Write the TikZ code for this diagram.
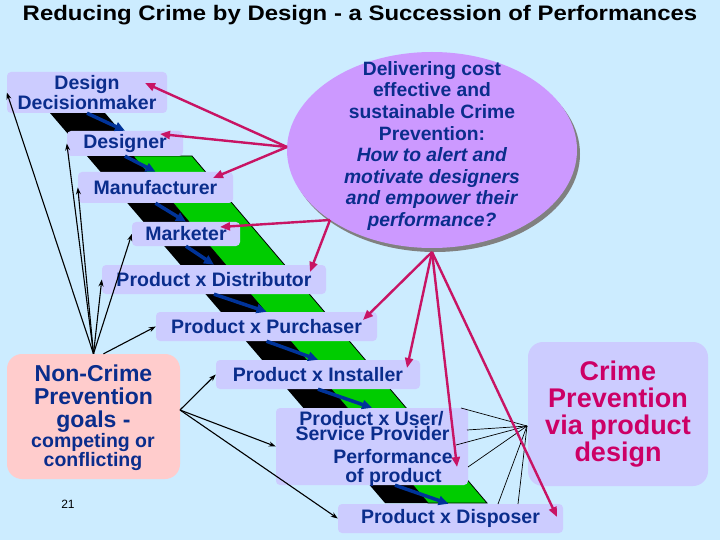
\documentclass[tikz,border=0pt]{standalone}
\usepackage{fontspec}
\setmainfont{Liberation Sans}
\usetikzlibrary{shapes.geometric,arrows.meta,calc}
\definecolor{bgc}{RGB}{204,236,255}
\definecolor{lav}{RGB}{204,204,255}
\definecolor{pinkbox}{RGB}{255,204,204}
\definecolor{ellc}{RGB}{204,153,255}
\definecolor{txtblue}{RGB}{10,45,140}
\definecolor{mag}{RGB}{204,0,102}
\definecolor{arrmag}{RGB}{200,20,100}
\definecolor{bandgreen}{RGB}{0,204,0}
\definecolor{arrblue}{RGB}{0,51,153}
\begin{document}
\begin{tikzpicture}[x=1pt,y=-1pt,
  box/.style={fill=lav, rounded corners=4pt, inner sep=0pt, text=txtblue,
    font=\bfseries\fontsize{19.5}{20}\selectfont, align=center},
  boxtext/.style={inner sep=0pt, anchor=base, text=txtblue, font=\bfseries\fontsize{19.5}{20}\selectfont},
  bigtext/.style={inner sep=0pt, anchor=base, text=txtblue, font=\bfseries\fontsize{23}{23}\selectfont},
  ncbox/.style={fill=pinkbox, rounded corners=15pt, inner sep=0pt},
  cpbox/.style={fill=lav, rounded corners=15pt, inner sep=0pt, text=mag,
    font=\bfseries\fontsize{27}{27}\selectfont, align=center},
  blk/.style={-{Stealth[length=7pt,width=5pt]}, line width=1.1pt, black},
  pinkarr/.style={-{Triangle[length=10pt,width=8pt]}, line width=2.4pt, arrmag},
  bluearr/.style={-{Triangle[length=10pt,width=9pt]}, line width=3.5pt, arrblue},
  thinline/.style={line width=0.7pt, black}
]
\useasboundingbox (0,0) rectangle (720,540);
\fill[bgc] (0,0) rectangle (720,540);

% title
\node[font=\bfseries\fontsize{21}{21}\selectfont, inner sep=0pt] (title) at (360,15)
  {\scalebox{1.14}[1]{Reducing Crime by Design - a Succession of Performances}};

% diagonal bands
\fill[black] (50,113) -- (105,113) -- (440,503) -- (385,503) -- cycle;
\filldraw[fill=bandgreen, draw=black, line width=0.8pt] (133,156) -- (192,156) -- (487,503) -- (428,503) -- cycle;

% boxes
\node[box, minimum width=160, minimum height=41] (dd) at (87,92.5) {Design\\Decisionmaker};
\node[box, minimum width=116, minimum height=25] (designer) at (125,143.5) {Designer};
\node[box, minimum width=155, minimum height=31] (manuf) at (155.5,187.5) {Manufacturer};
\node[box, minimum width=108, minimum height=24] (market) at (186,234) {Marketer};
\node[box, minimum width=224, minimum height=29] (distrib) at (214,279.5) {Product x Distributor};
\node[box, minimum width=221, minimum height=29] (purch) at (266.5,326.5) {Product x Purchaser};
\node[box, minimum width=204, minimum height=29] (install) at (318,374.5) {Product x Installer};
\node[box, minimum width=192, minimum height=77] (user) at (372,446.5) {};
\node[boxtext] (u1t) at (371.5,425) {Product x User/};
\node[boxtext] (u2t) at (372.5,440) {Service Provider};
\node[boxtext] (u3t) at (393,463) {Performance};
\node[boxtext] (u4t) at (393.5,482) {of product};
\node[box, minimum width=225, minimum height=29] (dispos) at (450.5,518.5) {Product x Disposer};

\node[ncbox, minimum width=173, minimum height=125] (ncp) at (93.5,416.5) {};
\node[bigtext] (n1t) at (93.5,381) {Non-Crime};
\node[bigtext] (n2t) at (93.5,404) {Prevention};
\node[bigtext] (n3t) at (93.5,427) {goals -};
\node[boxtext] (n4t) at (93,447) {competing or};
\node[boxtext] (n5t) at (93,466) {conflicting};

\node[cpbox, minimum width=180, minimum height=144] (cpp) at (618,414) {Crime\\Prevention\\via product\\design};

\node[font=\fontsize{12}{12}\selectfont, inner sep=0pt] (pg) at (68,504) {21};

% ellipse
\node[ellipse, fill=gray, minimum width=290, minimum height=196, inner sep=0pt] (ellsh) at (435,154) {};
\node[ellipse, fill=ellc, minimum width=290, minimum height=196, inner sep=0pt] (ell) at (432,150) {};
\node[text=txtblue, font=\bfseries\fontsize{19.3}{21.6}\selectfont, align=center, inner sep=0pt] (elltext) at (432,146)
  {Delivering cost\\effective and\\sustainable Crime\\Prevention:\\\textit{How to alert and}\\\textit{motivate designers}\\\textit{and empower their}\\\textit{performance?}};

% blue succession arrows
\draw[bluearr] (dd.south) -- (designer.north);
\draw[bluearr] (designer.south) -- (manuf.north);
\draw[bluearr] (manuf.south) -- (market.north);
\draw[bluearr] (market.south) -- (distrib.north);
\draw[bluearr] (distrib.south) -- (purch.north);
\draw[bluearr] (purch.south) -- (install.north);
\draw[bluearr] (install.south) -- (user.north);
\draw[bluearr] ($(user.south)+(23,0)$) -- ($(dispos.north)+(-2,0)$);

% black arrows from non-crime goals
\draw[blk] (ncp.north) -- (dd.west);
\draw[blk] (ncp.north) -- (designer.west);
\draw[blk] (ncp.north) -- (manuf.west);
\draw[blk] (ncp.north) -- (market.west);
\draw[blk] (ncp.north) -- (distrib.west);
\draw[blk] ($(ncp.north)+(10,0)$) -- (purch.west);
\coordinate (ncr) at (180,410);
\draw[blk] (ncr) -- (install.west);
\draw[blk] (ncr) -- (user.west);
\draw[blk] (ncr) -- (dispos.west);

% thin lines from crime prevention box
\coordinate (cpl) at (527,426);
\coordinate (c1) at (461,408);
\coordinate (c2) at (467,430);
\coordinate (c3) at (456,445);
\coordinate (c4) at (468,467);
\coordinate (c5) at (498,504);
\coordinate (c6) at (518,504);
\foreach \c in {c1,c2,c3,c4,c5,c6} \draw[thinline] (cpl) -- (\c);

% pink arrows from ellipse
\coordinate (pA) at (287,147);
\coordinate (pB) at (330,220);
\coordinate (pC) at (432,252);
\coordinate (tdd) at (145,83);
\coordinate (tdes) at (160,134);
\coordinate (tman) at (213,178);
\coordinate (tmar) at (220,227);
\coordinate (tdis) at (310,272);
\coordinate (tpur) at (363,320);
\coordinate (tins) at (407,368);
\coordinate (tusr) at (457,467);
\coordinate (tdsp) at (557,517);
\draw[pinkarr] (pA) -- (tdd);
\draw[pinkarr] (pA) -- (tdes);
\draw[pinkarr] (pA) -- (tman);
\draw[pinkarr] (pB) -- (tmar);
\draw[pinkarr] (pB) -- (tdis);
\draw[pinkarr] (pC) -- (tpur);
\draw[pinkarr] (pC) -- (tins);
\draw[pinkarr] (pC) -- (tusr);
\draw[pinkarr] (pC) -- (tdsp);
\end{tikzpicture}
\end{document}
